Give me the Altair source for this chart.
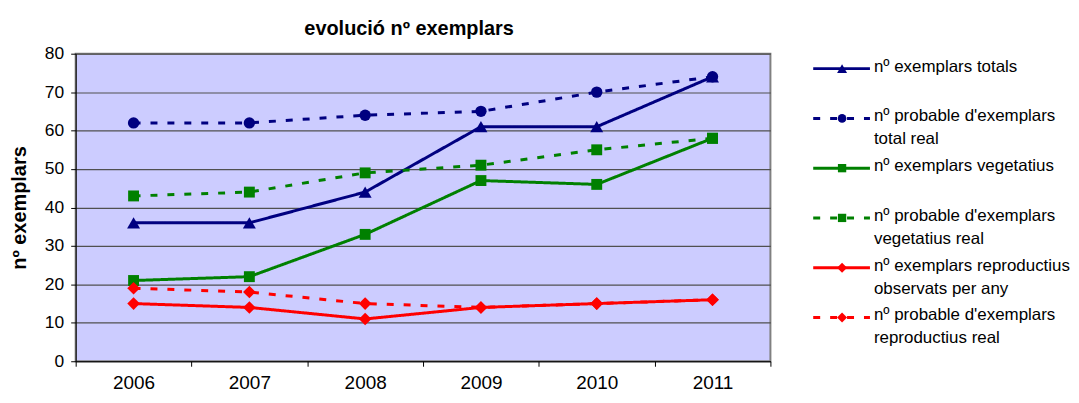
import altair as alt
import pandas as pd

years = ["2006", "2007", "2008", "2009", "2010", "2011"]
series = [
    "nº exemplars totals",
    "nº probable d'exemplars total real",
    "nº exemplars vegetatius",
    "nº probable d'exemplars vegetatius real",
    "nº exemplars reproductius observats per any",
    "nº probable d'exemplars reproductius real",
]
legend_labels = [
    "nº exemplars totals",
    "nº probable d'exemplars\ntotal real",
    "nº exemplars vegetatius",
    "nº probable d'exemplars\nvegetatius real",
    "nº exemplars reproductius\nobservats per any",
    "nº probable d'exemplars\nreproductius real",
]
totals = [36, 36, 44, 61, 61, 74]
prob_totals = [62, 62, 64, 65, 70, 74]
vegetatius = [21, 22, 33, 47, 46, 58]
prob_vegetatius = [43, 44, 49, 51, 55, 58]
reproductius = [15, 14, 11, 14, 15, 16]
prob_reproductius = [19, 18, 15, 14, 15, 16]

values = [totals, prob_totals, vegetatius, prob_vegetatius, reproductius, prob_reproductius]
colors = ["#000080", "#000080", "#008000", "#008000", "#FF0000", "#FF0000"]
dashes = [[1, 0], [7, 10], [1, 0], [7, 10], [1, 0], [7, 10]]
shapes = ["triangle-up", "circle", "square", "square", "diamond", "diamond"]
sizes = [170, 130, 120, 120, 160, 160]
legend_sizes = [100, 75, 70, 70, 100, 100]

rows = []
for s, vals in zip(series, values):
    for y, v in zip(years, vals):
        rows.append({"serie": s, "any": y, "valor": v})
df = pd.DataFrame(rows)
leg = pd.DataFrame({"serie": series, "label": legend_labels})

FONT = "Liberation Sans"

x = alt.X("any:N", title=None, sort=years,
          scale=alt.Scale(paddingInner=0, paddingOuter=0),
          axis=alt.Axis(labelAngle=0, labelFont=FONT, labelFontSize=19, labelColor="#000",
                        domainColor="#000", tickColor="#000", tickSize=5, tickBand="extent",
                        labelPadding=7, grid=False))
y = alt.Y("valor:Q", title="nº exemplars",
          scale=alt.Scale(domain=[0, 80], nice=False),
          axis=alt.Axis(values=list(range(0, 81, 10)), labelFont=FONT, labelFontSize=17.5,
                        labelColor="#000", domainColor="#000", tickColor="#000", tickSize=5,
                        labelPadding=7, gridColor="#505050", gridWidth=1.2,
                        titleFont=FONT, titleFontSize=20, titleFontWeight="bold",
                        titleColor="#000", titlePadding=15))

base = alt.Chart(df)
layers = []
for s, c, d, sh, sz in zip(series, colors, dashes, shapes, sizes):
    sub = base.transform_filter(alt.datum.serie == s)
    layers.append(sub.mark_line(strokeWidth=3, color=c, strokeDash=d).encode(x=x, y=y))
    layers.append(sub.mark_point(filled=True, opacity=1, color=c, shape=sh, size=sz)
                  .encode(x=x, y=y))

main = alt.layer(*layers).properties(
    width=698, height=309,
    view=alt.ViewBackground(fill="#CCCCFF", stroke="#808080", strokeWidth=2),
    title=alt.TitleParams("evolució nº exemplars", font=FONT, fontSize=20, fontWeight="bold",
                          color="#000", anchor="middle", dx=-14, offset=6),
)

ly = alt.Y("serie:N", sort=series, axis=None,
           scale=alt.Scale(type="point", range=[15, 265], padding=0, domain=series))
leg_base = alt.Chart(leg)
leg_layers = []
for s, c, d, sh, sz in zip(series, colors, dashes, shapes, legend_sizes):
    sub = leg_base.transform_filter(alt.datum.serie == s)
    leg_layers.append(sub.mark_rule(strokeWidth=3, color=c, strokeDash=d).encode(
        y=ly, x=alt.value(0), x2=alt.value(57)))
    leg_layers.append(sub.mark_point(filled=True, opacity=1, color=c, shape=sh, size=sz).encode(
        y=ly, x=alt.value(29)))
leg_layers.append(leg_base.mark_text(align="left", baseline="top", dy=-10, lineBreak="\n",
                                     lineHeight=23, font=FONT, fontSize=17, color="#000").encode(
    y=ly, x=alt.value(61), text="label:N"))
legend = alt.layer(*leg_layers).properties(
    width=200, height=309, view=alt.ViewBackground(stroke=None)
)

chart = alt.hconcat(main, legend, spacing=39).configure(
    padding={"left": 0, "top": 9, "right": 0, "bottom": 0}
)

chart.save("out.html", embed_options={"renderer": "svg", "actions": False})
